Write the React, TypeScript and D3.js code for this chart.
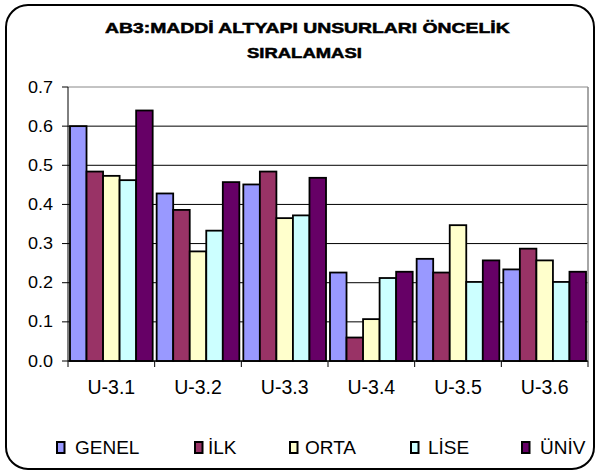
import React, { useLayoutEffect, useRef, useState } from "react";
import * as d3 from "d3";

const categories = ["U-3.1", "U-3.2", "U-3.3", "U-3.4", "U-3.5", "U-3.6"];
const seriesNames = ["GENEL", "İLK", "ORTA", "LİSE", "ÜNİV"];
const seriesColors = ["#9999FF", "#993366", "#FFFFCC", "#CCFFFF", "#660066"];
const genel = [0.60, 0.428, 0.451, 0.226, 0.261, 0.234];
const ilk = [0.484, 0.386, 0.484, 0.06, 0.226, 0.287];
const orta = [0.473, 0.28, 0.365, 0.107, 0.347, 0.257];
const lise = [0.462, 0.333, 0.372, 0.212, 0.202, 0.202];
const univ = [0.64, 0.457, 0.468, 0.228, 0.257, 0.228];
const yTicks = [0, 0.1, 0.2, 0.3, 0.4, 0.5, 0.6, 0.7];
const titleLines = ["AB3:MADDİ ALTYAPI UNSURLARI ÖNCELİK", "SIRALAMASI"];

const series = [genel, ilk, orta, lise, univ];

function StretchText(props: { x: number; y: number; width: number; children: string; fontSize: number; bold?: boolean }) {
  const ref = useRef<SVGTextElement>(null);
  const [sx, setSx] = useState(1);
  useLayoutEffect(() => {
    if (ref.current) {
      const w = ref.current.getComputedTextLength();
      if (w > 0) setSx(props.width / w);
    }
  }, [props.width, props.children]);
  return (
    <text ref={ref} transform={`translate(${props.x},${props.y}) scale(${sx},1)`} fontSize={props.fontSize}
      fontWeight={props.bold ? "bold" : "normal"} stroke={props.bold ? "#000" : "none"} strokeWidth={props.bold ? 0.5 : 0}>
      {props.children}
    </text>
  );
}

export default function App() {
  const W = 600, H = 474;
  const left = 68, right = 588, top = 87, bottom = 361;
  const y = d3.scaleLinear().domain([0, 0.7]).range([bottom, top]);
  const x = d3.scaleBand().domain(categories).range([left, right]).paddingInner(0).paddingOuter(0);
  const inner = d3.scaleBand().domain(seriesNames).range([0, x.bandwidth()]).paddingInner(0).paddingOuter(0.12);
  const font = "'Liberation Sans', Arial, sans-serif";
  const legendX = [57, 195, 290, 411, 522];
  const legendTextX = [75, 208, 305, 428, 540];

  return (
    <svg width={W} height={H} style={{ position: "absolute", left: 0, top: 0, background: "#fff" }} fontFamily={font}>
      <rect x={6} y={5} width={588} height={464} rx={22} ry={22} fill="#fff" stroke="#000" strokeWidth={2} />
      <StretchText x={105} y={33} width={405} fontSize={14.5} bold>{titleLines[0]}</StretchText>
      <StretchText x={247} y={58} width={115} fontSize={14.5} bold>{titleLines[1]}</StretchText>
      {/* gridlines */}
      {yTicks.map((t) => (
        <line key={"g" + t} x1={left} x2={right} y1={y(t)} y2={y(t)} stroke={t === 0.7 ? "#888" : "#000"} strokeWidth={1} />
      ))}
      <line x1={right} x2={right} y1={top} y2={bottom} stroke="#888" strokeWidth={1.5} />
      {/* bars */}
      {categories.map((c, ci) => (
        <g key={c}>
          {series.map((s, si) => (
            <rect key={si} x={(x(c) as number) + (inner(seriesNames[si]) as number)} y={y(s[ci])}
              width={inner.bandwidth()} height={y(0) - y(s[ci])} fill={seriesColors[si]} stroke="#000" strokeWidth={1.8} />
          ))}
        </g>
      ))}
      {/* axes */}
      <line x1={left} x2={left} y1={top} y2={bottom} stroke="#000" strokeWidth={1} />
      <line x1={left} x2={right} y1={bottom} y2={bottom} stroke="#000" strokeWidth={1} />
      {yTicks.map((t) => (
        <g key={"t" + t}>
          <line x1={left - 6} x2={left} y1={y(t)} y2={y(t)} stroke="#000" />
          <text x={53} y={y(t) + 5.5} textAnchor="end" fontSize={16} textLength={25} lengthAdjust="spacingAndGlyphs">{t.toFixed(1)}</text>
        </g>
      ))}
      {categories.map((c, i) => (
        <line key={"xt" + i} x1={x(c) as number} x2={x(c) as number} y1={bottom} y2={bottom + 6} stroke="#000" />
      ))}
      <line x1={right} x2={right} y1={bottom} y2={bottom + 6} stroke="#000" />
      {categories.map((c) => (
        <text key={"xl" + c} x={(x(c) as number) + x.bandwidth() / 2} y={394} textAnchor="middle" fontSize={19.5}>{c}</text>
      ))}
      {/* legend */}
      {seriesNames.map((n, i) => (
        <g key={"l" + n}>
          <rect x={legendX[i]} y={442} width={7.5} height={11} fill={seriesColors[i]} stroke="#000" strokeWidth={2} />
          <text x={legendTextX[i]} y={454} fontSize={19}>{n}</text>
        </g>
      ))}
    </svg>
  );
}
